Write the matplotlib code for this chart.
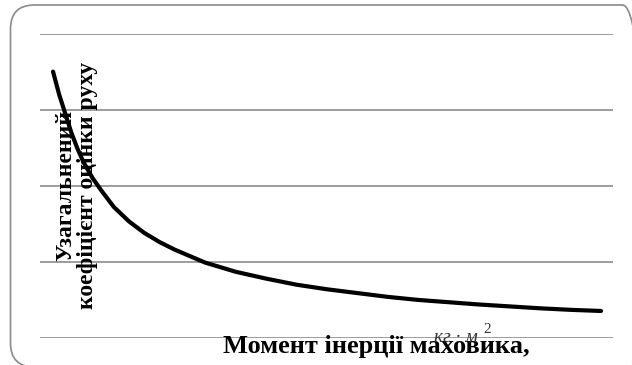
import matplotlib.pyplot as plt
from matplotlib.patches import FancyBboxPatch

# момент інерції маховика (умовні одиниці) та узагальнений коефіцієнт
inertia = [1.0, 1.1, 1.2, 1.3, 1.4, 1.5, 1.65, 1.8, 2.0, 2.25, 2.5, 2.75, 3.0, 3.5, 4.0,
           4.5, 5.0, 5.5, 6.0, 6.5, 7.0, 7.5, 8.0, 8.5, 9.0, 9.5, 10.0]
coef = [3.5, 3.2, 2.95, 2.7, 2.49, 2.31, 2.1, 1.93, 1.72, 1.53, 1.38, 1.26, 1.16, 0.99, 0.87,
        0.78, 0.7, 0.64, 0.59, 0.54, 0.5, 0.47, 0.44, 0.415, 0.39, 0.37, 0.355]
grid_levels = [0, 1, 2, 3, 4]

plt.rcParams['font.family'] = ['Liberation Serif', 'DejaVu Serif']

fig = plt.figure(figsize=(6.32, 3.65), dpi=100)

# рамка області діаграми з заокругленими кутами
frame = FancyBboxPatch((10.5, -2), 636, 362, boxstyle='round,pad=0,rounding_size=24',
                       transform=None, facecolor='none', edgecolor='#8a8a8a', linewidth=1.2)
fig.patches.append(frame)

ax = fig.add_axes([40 / 632, 27 / 365, 573 / 632, 304.5 / 365])
ax.plot(inertia, coef, color='black', linewidth=3, solid_capstyle='round',
        solid_joinstyle='round')
ax.set_xlim(0.786, 10.197)
ax.set_ylim(0, 4)
for lvl in grid_levels:
    ax.axhline(lvl, color='#8c8c8c', linewidth=1.2, zorder=0)
for s in ax.spines.values():
    s.set_visible(False)
ax.set_xticks([])
ax.set_yticks([])
ax.patch.set_alpha(0)

fig.text(376 / 632, 12 / 365, 'Момент інерції маховика,', ha='center', va='baseline',
         fontsize=19, fontweight='bold')
# одиниці виміру над підписом осі
fig.text(434 / 632, 23 / 365, 'кг · м', ha='left', va='baseline', fontsize=14,
         style='italic', color='#333333')
fig.text(483 / 632, 32 / 365, '2', ha='left', va='baseline', fontsize=11, color='#333333')

fig.text(77 / 632, 180 / 365, 'Узагальнений\nкоефіцієнт оцінки руху', rotation=90,
         ha='center', va='center', multialignment='center', fontsize=17,
         fontweight='bold', linespacing=1.05)

fig.savefig('out.png', dpi=100)
